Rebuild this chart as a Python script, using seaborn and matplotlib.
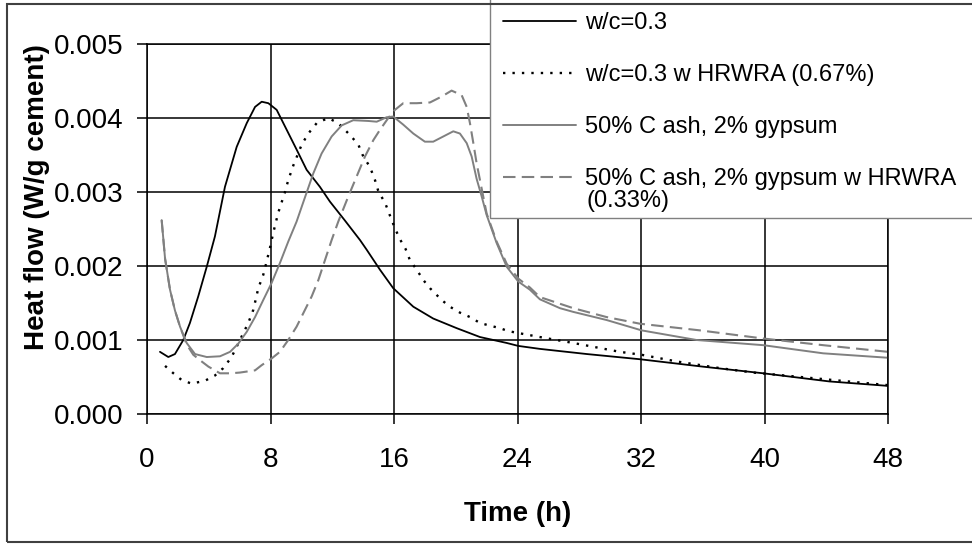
import matplotlib
matplotlib.use("Agg")
import matplotlib.pyplot as plt
import seaborn as sns
import pandas as pd
from matplotlib.patches import Rectangle

# ---------------- data ----------------
labels = ["w/c=0.3",
          "w/c=0.3 w HRWRA (0.67%)",
          "50% C ash, 2% gypsum",
          "50% C ash, 2% gypsum w HRWRA"]
label4_extra = "(0.33%)"

x_ticks = [0, 8, 16, 24, 32, 40, 48]
y_ticks = [0.000, 0.001, 0.002, 0.003, 0.004, 0.005]

t_wc03 = [0.84, 1.38, 1.81, 2.35, 2.78, 3.32, 3.87, 4.4, 5.05, 5.81, 6.46, 7.0, 7.43,
          7.86, 8.4, 9.05, 9.7, 10.34, 11.2, 11.85, 12.8, 13.8, 14.23, 15.09, 15.95,
          17.25, 18.54, 20.06, 21.57, 23.3, 24.05, 25.45, 26.75, 28.5, 31.93, 36.0,
          39.92, 44.2, 48.0]
q_wc03 = [0.00084, 0.00077, 0.00081, 0.00100, 0.00123, 0.00159, 0.00199, 0.00240,
          0.00307, 0.00361, 0.00393, 0.00415, 0.00422, 0.00420, 0.00411, 0.00384,
          0.00357, 0.00330, 0.00307, 0.00287, 0.00262, 0.00235, 0.00222, 0.00195,
          0.00170, 0.00145, 0.00129, 0.00116, 0.00104, 0.00096, 0.00092, 0.00088,
          0.00085, 0.00081, 0.00074, 0.00064, 0.00055, 0.00044, 0.00038]

t_wc03_hr = [1.17, 1.71, 2.24, 2.89, 3.76, 4.4, 4.94, 5.48, 6.02, 6.56, 6.89, 7.21,
             7.53, 7.75, 7.97, 8.18, 8.5, 8.94, 9.15, 9.48, 10.02, 10.45, 10.99, 11.74,
             12.39, 13.15, 13.69, 14.01, 14.44, 14.77, 15.0, 15.41, 15.74, 16.06, 16.39,
             16.75, 17.03, 17.47, 17.9, 18.33, 19.09, 19.62, 20.27, 20.92, 21.57, 22.1,
             22.86, 23.4, 24.16, 25.45, 27.61, 30.63, 32.04, 34.31, 37.11, 39.27, 43.37,
             48.0]
q_wc03_hr = [0.00065, 0.00055, 0.00046, 0.00041, 0.00045, 0.00052, 0.00062, 0.00077,
             0.00100, 0.00123, 0.00141, 0.00170, 0.00188, 0.00206, 0.00225, 0.00245,
             0.00272, 0.00300, 0.00316, 0.00336, 0.00364, 0.00379, 0.00393, 0.00400,
             0.00393, 0.00377, 0.00364, 0.00348, 0.00334, 0.00316, 0.00300, 0.00286,
             0.00268, 0.00251, 0.00236, 0.00223, 0.00208, 0.00195, 0.00181, 0.00170,
             0.00154, 0.00145, 0.00137, 0.00131, 0.00123, 0.00120, 0.00116, 0.00112,
             0.00109, 0.00104, 0.00096, 0.00084, 0.00080, 0.00071, 0.00062, 0.00056,
             0.00048, 0.00039]

t_ash = [0.95, 1.17, 1.49, 1.81, 2.14, 2.57, 3.11, 3.87, 4.73, 5.38, 5.91, 6.46, 7.0,
         7.53, 8.07, 8.61, 9.15, 9.69, 10.12, 10.77, 11.31, 11.96, 12.61, 13.36, 14.33,
         14.88, 15.52, 15.95, 16.6, 17.25, 18.0, 18.54, 19.19, 19.84, 20.27, 20.71,
         21.03, 21.35, 21.68, 22.0, 22.65, 23.3, 24.05, 24.8, 25.45, 26.75, 27.61,
         29.77, 32.04, 35.6, 39.92, 43.8, 48.0]
q_ash = [0.00262, 0.00210, 0.00168, 0.00140, 0.00118, 0.00096, 0.00081, 0.00077,
         0.00078, 0.00084, 0.00095, 0.00111, 0.00131, 0.00154, 0.00177, 0.00204,
         0.00233, 0.00260, 0.00286, 0.00325, 0.00352, 0.00375, 0.00390, 0.00397,
         0.00396, 0.00395, 0.00401, 0.00402, 0.00391, 0.00379, 0.00368, 0.00368,
         0.00375, 0.00382, 0.00379, 0.00366, 0.00348, 0.00318, 0.00294, 0.00269,
         0.00231, 0.00199, 0.00179, 0.00168, 0.00155, 0.00143, 0.00138, 0.00127,
         0.00113, 0.00100, 0.00093, 0.00082, 0.00076]

t_ash_hr = [0.95, 1.17, 1.49, 1.81, 2.14, 2.57, 3.0, 3.54, 3.98, 4.73, 5.4, 6.02, 7.0,
            7.43, 8.07, 8.61, 9.15, 9.69, 10.12, 10.67, 11.1, 11.53, 11.96, 12.39,
            13.04, 13.58, 14.12, 14.66, 15.09, 15.63, 16.06, 16.6, 17.47, 18.33, 19.09,
            19.73, 20.38, 20.71, 20.92, 21.14, 21.35, 21.57, 21.78, 22.0, 22.65, 23.3,
            24.05, 24.8, 25.45, 27.61, 29.77, 31.93, 35.82, 39.92, 43.8, 48.0]
q_ash_hr = [0.00262, 0.00210, 0.00168, 0.00140, 0.00118, 0.00094, 0.00080, 0.00071,
            0.00064, 0.00055, 0.00055, 0.00056, 0.00059, 0.00066, 0.00075, 0.00084,
            0.00100, 0.00118, 0.00136, 0.00159, 0.00181, 0.00208, 0.00235, 0.00260,
            0.00294, 0.00321, 0.00348, 0.00370, 0.00384, 0.00400, 0.00411, 0.00420,
            0.00420, 0.00421, 0.00429, 0.00437, 0.00431, 0.00415, 0.00393, 0.00366,
            0.00339, 0.00316, 0.00294, 0.00271, 0.00233, 0.00203, 0.00183, 0.00171,
            0.00158, 0.00143, 0.00131, 0.00122, 0.00113, 0.00102, 0.00093, 0.00084]

# ---------------- styling ----------------
sns.set_theme(style="white")
plt.rcParams["font.family"] = ["Liberation Sans", "DejaVu Sans"]

W, H = 972, 544
fig = plt.figure(figsize=(W / 100, H / 100), dpi=100)
fig.patch.set_facecolor("white")
ax = fig.add_axes([147 / W, 1 - 414 / H, (888 - 147) / W, (414 - 44) / H])

GRAY = "#808080"
styles = [
    dict(color="black", linestyle="-", linewidth=1.3),
    dict(color="black", linestyle=(0, (1, 3)), linewidth=1.7),
    dict(color=GRAY, linestyle="-", linewidth=1.4),
    dict(color=GRAY, linestyle=(0, (6, 3)), linewidth=1.5),
]
data = [(t_wc03, q_wc03), (t_wc03_hr, q_wc03_hr), (t_ash, q_ash), (t_ash_hr, q_ash_hr)]

for (t, q), lab, st in zip(data, labels, styles):
    df = pd.DataFrame({"t": t, "q": q})
    sns.lineplot(data=df, x="t", y="q", ax=ax, label=lab, estimator=None, **st)

if ax.get_legend() is not None:
    ax.get_legend().remove()

ax.set_xlim(0, 48)
ax.set_ylim(0, 0.005)
ax.set_xticks(x_ticks)
ax.set_yticks(y_ticks)
ax.set_yticklabels([f"{v:.3f}" for v in y_ticks])
ax.set_xticklabels([str(v) for v in x_ticks])

ax.grid(True, color="black", linewidth=1.1)
ax.set_axisbelow(True)
for s in ax.spines.values():
    s.set_color("black")
    s.set_linewidth(1.1)

ax.tick_params(axis="both", which="major", direction="out", length=7, width=1.1,
               color="black", labelsize=20, labelcolor="black")
ax.tick_params(axis="x", pad=17, bottom=True)
ax.tick_params(axis="y", pad=10, left=True)

ax.set_xlabel("Time (h)", fontsize=20, fontweight="bold", color="black", va="center")
ax.set_ylabel("Heat flow (W/g cement)", fontsize=20, fontweight="bold", color="black",
              va="center")
ax.xaxis.set_label_coords(0.5, (414 - 514) / 370)
ax.yaxis.set_label_coords((37 - 147) / 741, (414 - 197) / 370)

# legend box (extends past the top/right of the canvas as in the reference)
fig.add_artist(Rectangle((490 / W, 1 - 218 / H), 520 / W, 240 / H,
                         transform=fig.transFigure, facecolor="white",
                         edgecolor=GRAY, linewidth=1.0, zorder=2))
handles, labs = ax.get_legend_handles_labels()
fs = 17
fig.legend(handles, labs, loc="upper left", bbox_to_anchor=(503 / W, 1 - 12 / H),
           bbox_transform=fig.transFigure, frameon=False, borderpad=0,
           borderaxespad=0, fontsize=fs, handlelength=3.1, handletextpad=0.38,
           labelspacing=1.27, labelcolor="black")
fig.text(586 / W, 1 - 201 / H, label4_extra, fontsize=fs, color="black",
         ha="left", va="center", zorder=6)

# outer chart border
fig.add_artist(Rectangle((7 / W, 1 - 542 / H), 1000 / W, 538 / H,
                         transform=fig.transFigure, fill=False,
                         edgecolor="#404040", linewidth=1.5, zorder=10))

fig.savefig("out.png", dpi=100)
